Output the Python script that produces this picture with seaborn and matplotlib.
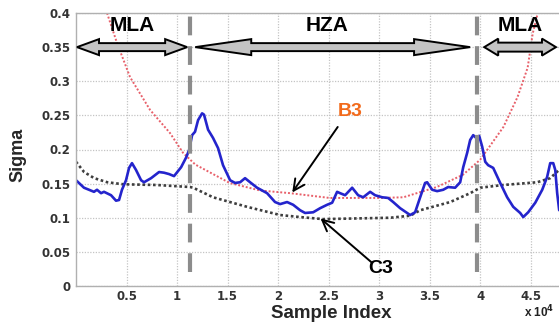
import numpy as np
import pandas as pd
import matplotlib
matplotlib.use("Agg")
import matplotlib.pyplot as plt
from matplotlib.patches import Polygon
import seaborn as sns

# ---------------- data (sample index in units of 1e4) ----------------
blue_x = [0.0, 0.079, 0.178, 0.208, 0.248, 0.277, 0.347, 0.396, 0.426, 0.455, 0.495, 0.525,
          0.554, 0.594, 0.644, 0.673, 0.743, 0.822, 0.871, 0.921, 0.970, 1.040, 1.089, 1.119,
          1.149, 1.178, 1.208, 1.248, 1.267, 1.307, 1.356, 1.406, 1.455, 1.525, 1.574, 1.624,
          1.673, 1.723, 1.792, 1.891, 1.970, 2.020, 2.089, 2.149, 2.218, 2.267, 2.347, 2.416,
          2.485, 2.535, 2.584, 2.614, 2.663, 2.733, 2.792, 2.842, 2.911, 2.960, 3.030, 3.089,
          3.139, 3.208, 3.277, 3.307, 3.356, 3.406, 3.455, 3.475, 3.525, 3.574, 3.634, 3.683,
          3.752, 3.802, 3.832, 3.871, 3.901, 3.931, 3.960, 3.990, 4.020, 4.050, 4.079, 4.129,
          4.198, 4.267, 4.327, 4.396, 4.426, 4.475, 4.545, 4.614, 4.663, 4.693, 4.723, 4.743,
          4.762, 4.782]
blue_sigma = [0.155, 0.144, 0.138, 0.141, 0.136, 0.138, 0.133, 0.125, 0.126, 0.141, 0.155, 0.173,
              0.180, 0.170, 0.155, 0.152, 0.158, 0.167, 0.166, 0.164, 0.161, 0.174, 0.188, 0.199,
              0.221, 0.226, 0.243, 0.253, 0.251, 0.229, 0.217, 0.202, 0.177, 0.155, 0.151, 0.152,
              0.158, 0.152, 0.144, 0.136, 0.123, 0.120, 0.123, 0.119, 0.111, 0.107, 0.108, 0.114,
              0.119, 0.122, 0.138, 0.136, 0.133, 0.144, 0.133, 0.130, 0.138, 0.133, 0.130, 0.129,
              0.123, 0.114, 0.107, 0.104, 0.108, 0.130, 0.151, 0.152, 0.141, 0.139, 0.141, 0.145,
              0.144, 0.152, 0.174, 0.195, 0.214, 0.221, 0.217, 0.220, 0.204, 0.182, 0.177, 0.173,
              0.151, 0.130, 0.116, 0.107, 0.101, 0.108, 0.122, 0.141, 0.160, 0.180, 0.180, 0.170,
              0.136, 0.111]

b3_x = [0.307, 0.406, 0.535, 0.733, 0.931, 1.06, 1.18, 1.52, 1.82, 2.12, 2.51, 3.01, 3.24,
        3.57, 3.83, 4.00, 4.23, 4.37, 4.47, 4.52, 4.57]
b3_sigma = [0.400, 0.356, 0.306, 0.258, 0.224, 0.195, 0.178, 0.151, 0.140, 0.136, 0.129, 0.129,
            0.130, 0.145, 0.163, 0.185, 0.233, 0.277, 0.320, 0.370, 0.400]

c3_x = [0.0, 0.08, 0.18, 0.31, 0.47, 0.80, 1.13, 1.16, 1.356, 1.693, 2.02, 2.218, 2.446, 3.109,
        3.307, 3.406, 3.703, 3.901, 4.0, 4.228, 4.564, 4.693, 4.78]
c3_sigma = [0.182, 0.167, 0.158, 0.152, 0.149, 0.148, 0.145, 0.144, 0.130, 0.116, 0.104, 0.101,
            0.098, 0.100, 0.103, 0.111, 0.123, 0.136, 0.144, 0.148, 0.152, 0.158, 0.170]

boundaries = [1.129, 3.97]
x_ticks = [0.5, 1, 1.5, 2, 2.5, 3, 3.5, 4, 4.5]
x_tick_labels = ["0.5", "1", "1.5", "2", "2.5", "3", "3.5", "4", "4.5"]
y_ticks = [0, 0.05, 0.1, 0.15, 0.2, 0.25, 0.3, 0.35, 0.4]
y_tick_labels = ["0", "0.05", "0.1", "0.15", "0.2", "0.25", "0.3", "0.35", "0.4"]
zones = ["MLA", "HZA", "MLA"]

# ---------------- figure ----------------
sns.set_style("white")
plt.rcParams["font.family"] = ["Liberation Sans", "DejaVu Sans"]

W, H = 559, 322
fig = plt.figure(figsize=(W / 100, H / 100), dpi=100)
ax = fig.add_axes([76 / W, 36 / H, 483 / W, 273 / H])

XMAX = 4.78
ax.set_xlim(0, XMAX)
ax.set_ylim(0, 0.4)
px_x = 483 / XMAX     # pixels per x unit
px_y = 273 / 0.4      # pixels per y unit

ax.grid(True, color="#c4c4c4", linestyle=(0, (1, 1.2)), linewidth=0.9)
ax.set_axisbelow(True)

df_b3 = pd.DataFrame({"x": b3_x, "sigma": b3_sigma})
df_c3 = pd.DataFrame({"x": c3_x, "sigma": c3_sigma})
df_blue = pd.DataFrame({"x": blue_x, "sigma": blue_sigma})

sns.lineplot(data=df_c3, x="x", y="sigma", ax=ax, color="#3e3e3e",
             linestyle=(0, (1, 1)), linewidth=1.9, sort=False)
sns.lineplot(data=df_b3, x="x", y="sigma", ax=ax, color="#e8606a",
             linestyle=(0, (1, 1)), linewidth=1.4, sort=False)
sns.lineplot(data=df_blue, x="x", y="sigma", ax=ax, color="#2424cc",
             linewidth=1.9, sort=False)

for xb in boundaries:
    ax.plot([xb, xb], [0.02, 0.4], color="#8c8c8c", linewidth=3.0,
            linestyle=(0, (4.5, 2.6)), solid_capstyle="butt", zorder=4)


def double_arrow(x0, x1, y, hl_px, hw_px, sw_px):
    hl = hl_px / px_x
    hw = hw_px / 2 / px_y
    sw = sw_px / 2 / px_y
    verts = [(x0, y), (x0 + hl, y + hw), (x0 + hl, y + sw), (x1 - hl, y + sw),
             (x1 - hl, y + hw), (x1, y), (x1 - hl, y - hw), (x1 - hl, y - sw),
             (x0 + hl, y - sw), (x0 + hl, y - hw)]
    ax.add_patch(Polygon(verts, closed=True, facecolor="#c4c4c4", edgecolor="black",
                         linewidth=1.4, zorder=6, clip_on=False, joinstyle="miter"))


double_arrow(0.01, 1.10, 0.35, 22, 16, 8)
double_arrow(1.18, 3.90, 0.35, 56, 16, 8)
double_arrow(4.04, 4.75, 0.35, 14, 17, 9)

zone_x = [0.555, 2.485, 4.40]
for label, zx in zip(zones, zone_x):
    ax.text(zx, 0.381, label, ha="center", va="center", fontsize=15,
            fontweight="bold", color="black", zorder=7)

ax.text(2.71, 0.256, "B3", ha="center", va="center", fontsize=14,
        fontweight="bold", color="#f26a1b", zorder=7)
ax.annotate("", xy=(2.14, 0.137), xytext=(2.59, 0.233),
            arrowprops=dict(arrowstyle="->", color="black", lw=1.4,
                            mutation_scale=20, shrinkA=0, shrinkB=0), zorder=7)
ax.text(3.02, 0.025, "C3", ha="center", va="center", fontsize=14,
        fontweight="bold", color="black", zorder=7)
ax.annotate("", xy=(2.42, 0.099), xytext=(2.93, 0.034),
            arrowprops=dict(arrowstyle="->", color="black", lw=1.4,
                            mutation_scale=20, shrinkA=0, shrinkB=0), zorder=7)

ax.set_xticks(x_ticks)
ax.set_xticklabels(x_tick_labels)
ax.set_yticks(y_ticks)
ax.set_yticklabels(y_tick_labels)
ax.tick_params(axis="both", direction="in", length=3, color="#999999",
               labelsize=8.5, labelcolor="#333333", pad=4)
ax.tick_params(axis="x", pad=3)
for lab in ax.get_xticklabels() + ax.get_yticklabels():
    lab.set_fontweight("bold")
    lab.set_family(["DejaVu Sans"])

for side in ["left", "bottom", "top"]:
    ax.spines[side].set_color("#b0b0b0")
    ax.spines[side].set_linewidth(1.0)
ax.spines["right"].set_visible(False)

ax.set_xlabel("")
ax.set_ylabel("")
fig.text(18 / W, 1 - 155 / H, "Sigma", rotation=90, ha="center", va="center",
         fontsize=13, fontweight="bold")
fig.text(331 / W, 1 - 314 / H, "Sample Index", ha="center", va="center",
         fontsize=13.5, fontweight="bold")
fig.text(524 / W, 1 - 317 / H, r"x 10$^{\mathbf{4}}$", ha="left", va="baseline",
         fontsize=8.5, fontweight="bold", color="#222222")

fig.savefig("out.png", dpi=100)
